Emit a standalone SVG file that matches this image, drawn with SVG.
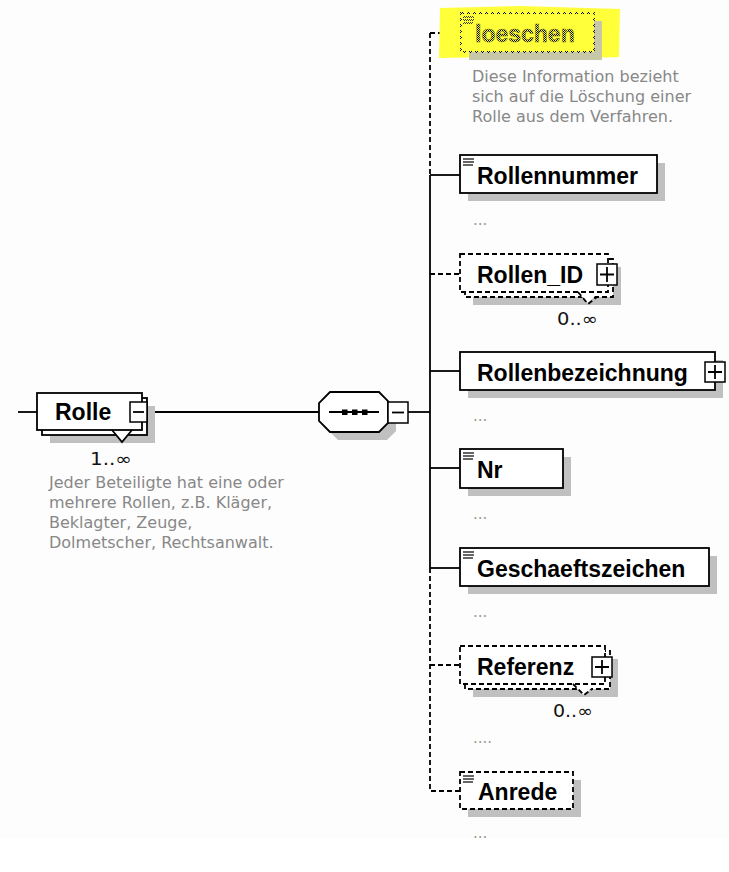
<svg xmlns="http://www.w3.org/2000/svg" width="729" height="872" viewBox="0 0 729 872">
<defs>
<pattern id="dither" width="2" height="2" patternUnits="userSpaceOnUse"><rect x="0" y="0" width="1" height="1" fill="#000"/><rect x="1" y="1" width="1" height="1" fill="#000"/></pattern>
<style>
.box{fill:#fff;stroke:#000;stroke-width:1.8}
.dbox{fill:#fff;stroke:#000;stroke-width:1.8;stroke-dasharray:5 3}
.shadow{fill:#c0c0c0}
.name{font-family:"Liberation Sans",Arial,sans-serif;font-weight:bold;font-size:23px;fill:#000}
.doc{font-family:"DejaVu Sans",Verdana,sans-serif;font-size:16px;fill:#888}
.dots{font-family:"DejaVu Sans",Verdana,sans-serif;font-size:15px;fill:#999}
.mult{font-family:"DejaVu Sans",Verdana,sans-serif;font-size:17px;fill:#111}
.ln{stroke:#000;stroke-width:1.8;fill:none}
.dl{stroke:#000;stroke-width:1.8;fill:none;stroke-dasharray:5 3}
.btn{fill:#fff;stroke:#000;stroke-width:1.5}
.ico{stroke:#333;stroke-width:1.3}
</style>
</defs>
<rect x="0" y="0" width="729" height="872" fill="#fdfdfd"/>
<rect x="0" y="838" width="729" height="34" fill="#fff"/>

<g id="connectors">
<path class="ln" d="M18,412H37"/>
<path class="ln" d="M147,412H319"/>
<path class="ln" d="M408,412H430"/>
<path class="dl" d="M430,33V175"/>
<path class="ln" d="M430,175V568"/>
<path class="dl" d="M430,568V791H460"/>
<path class="dl" d="M430,33H461"/>
<path class="ln" d="M430,175H460"/>
<path class="dl" d="M430,274H460"/>
<path class="ln" d="M430,371H460"/>
<path class="ln" d="M430,468H460"/>
<path class="ln" d="M430,568H460"/>
<path class="dl" d="M430,665H460"/>
</g>

<g id="Rolle">
<rect class="shadow" x="50" y="406" width="105" height="37"/>
<rect class="box" x="42" y="398" width="105" height="37"/>
<rect class="box" x="37" y="393" width="105" height="37"/>
<polygon points="112,431 132,431 122,442" fill="#fdfdfd"/>
<path class="ln" d="M112,430L122,442L132,430" stroke-width="1.3"/>
<rect class="btn" x="130" y="402" width="17" height="20"/>
<path class="ln" d="M133,412H144" stroke-width="1.5"/>
<text class="name" x="55" y="420">Rolle</text>
<text class="mult" x="90" y="465" textLength="42" lengthAdjust="spacingAndGlyphs">1..∞</text>
<text class="doc" x="49" y="488">Jeder Beteiligte hat eine oder</text>
<text class="doc" x="49" y="508">mehrere Rollen, z.B. Kläger,</text>
<text class="doc" x="49" y="528">Beklagter, Zeuge,</text>
<text class="doc" x="49" y="548">Dolmetscher, Rechtsanwalt.</text>
</g>

<g id="sequence">
<polygon class="shadow" points="338,400 387,400 396,409 396,431 387,440 338,440 327,429 327,411"/>
<polygon class="box" points="330,392 379,392 388,401 388,423 379,432 330,432 319,421 319,403"/>
<path class="ln" d="M329,412H379" stroke-width="1.5"/>
<rect x="342" y="409.5" width="5.5" height="5.5" fill="#000"/>
<rect x="352" y="409.5" width="5.5" height="5.5" fill="#000"/>
<rect x="362" y="409.5" width="5.5" height="5.5" fill="#000"/>
<rect class="btn" x="388" y="402" width="20" height="21"/>
<path class="ln" d="M392,412.5H404" stroke-width="1.5"/>
</g>

<g id="loeschen">
<path d="M440,8 L520,6 L620,9 L619,57 L560,59 L500,57 L439,58 Z" fill="#ffff3a"/>
<rect x="469" y="21" width="133" height="39" fill="#c8c8a8"/>
<rect x="461" y="13" width="133" height="39" fill="#ffff3a" stroke="url(#dither)" stroke-width="1.8" stroke-dasharray="3 3"/>
<path d="M463,17H474M463,20H474M463,23H473" stroke="url(#dither)" stroke-width="1.5"/>
<text class="name" x="475" y="42" style="fill:url(#dither);stroke:#6a6a20;stroke-width:0.4">loeschen</text>
<text class="doc" x="472" y="82">Diese Information bezieht</text>
<text class="doc" x="472" y="102">sich auf die Löschung einer</text>
<text class="doc" x="472" y="122">Rolle aus dem Verfahren.</text>
</g>

<g id="Rollennummer">
<rect class="shadow" x="468" y="163" width="197" height="38"/>
<rect class="box" x="460" y="155" width="197" height="38"/>
<path class="ico" d="M463,159H474M463,162H474M463,165H473"/>
<text class="name" x="477" y="184">Rollennummer</text>
<text class="dots" x="473" y="225">...</text>
</g>

<g id="Rollen_ID">
<rect class="shadow" x="473" y="267" width="148" height="38"/>
<rect class="dbox" x="465" y="259" width="148" height="38"/>
<rect class="dbox" x="460" y="254" width="148" height="38"/>
<polygon points="578,293 598,293 588,303" fill="#fff"/>
<path class="dl" d="M578,292L588,304L597,297" stroke-width="1.3" stroke-dasharray="3 2"/>
<rect class="btn" x="597" y="264" width="20" height="21"/>
<path class="ln" d="M600,274.5H614M607,267V282" stroke-width="1.5"/>
<text class="name" x="477" y="283">Rollen_ID</text>
<text class="mult" x="557" y="325" textLength="41" lengthAdjust="spacingAndGlyphs">0..∞</text>
</g>

<g id="Rollenbezeichnung">
<rect class="shadow" x="468" y="360" width="255" height="38"/>
<rect class="box" x="460" y="352" width="255" height="38"/>
<rect class="btn" x="705" y="362" width="20" height="20"/>
<path class="ln" d="M708,372H722M715,365V379" stroke-width="1.5"/>
<text class="name" x="477" y="381">Rollenbezeichnung</text>
<text class="dots" x="473" y="421">...</text>
</g>

<g id="Nr">
<rect class="shadow" x="468" y="457" width="103" height="39"/>
<rect class="box" x="460" y="449" width="103" height="39"/>
<path class="ico" d="M463,453H474M463,456H474M463,459H473"/>
<text class="name" x="477" y="478">Nr</text>
<text class="dots" x="473" y="519">...</text>
</g>

<g id="Geschaeftszeichen">
<rect class="shadow" x="468" y="556" width="249" height="38"/>
<rect class="box" x="460" y="548" width="249" height="38"/>
<path class="ico" d="M463,552H474M463,555H474M463,558H473"/>
<text class="name" x="477" y="577">Geschaeftszeichen</text>
<text class="dots" x="473" y="617">...</text>
</g>

<g id="Referenz">
<rect class="shadow" x="473" y="659" width="145" height="38"/>
<rect class="dbox" x="465" y="651" width="145" height="38"/>
<rect class="dbox" x="460" y="646" width="145" height="38"/>
<polygon points="573,685 595,685 584,695" fill="#fff"/>
<path class="dl" d="M573,684L584,695L592,689" stroke-width="1.3" stroke-dasharray="3 2"/>
<rect class="btn" x="592" y="657" width="20" height="20"/>
<path class="ln" d="M595,667H609M602,660V674" stroke-width="1.5"/>
<text class="name" x="477" y="675">Referenz</text>
<text class="mult" x="553" y="717" textLength="40" lengthAdjust="spacingAndGlyphs">0..∞</text>
<text class="dots" x="473" y="743">....</text>
</g>

<g id="Anrede">
<rect class="shadow" x="468" y="780" width="113" height="37"/>
<rect class="dbox" x="460" y="772" width="113" height="37"/>
<path class="ico" d="M463,776H474M463,779H474M463,782H473"/>
<text class="name" x="478" y="800">Anrede</text>
<text class="dots" x="473" y="838">...</text>
</g>
</svg>
